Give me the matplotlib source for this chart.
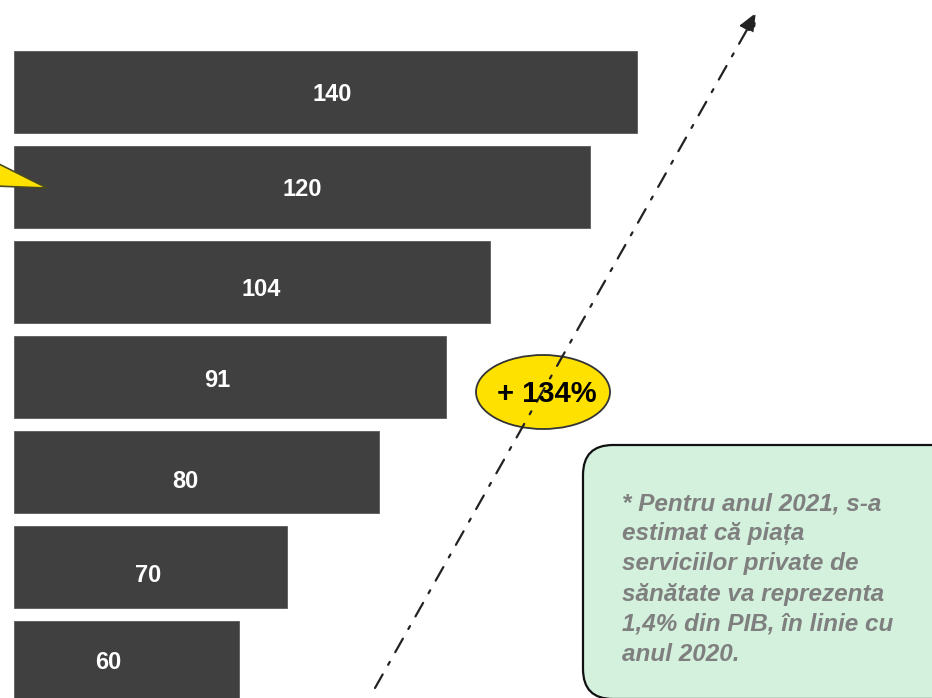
import matplotlib

matplotlib.use("Agg")
import matplotlib.pyplot as plt
from matplotlib.patches import Ellipse, FancyBboxPatch, Polygon

# values shown on the bars, bottom to top
values = [60, 70, 80, 91, 104, 120, 140]
# drawn bar lengths (read from the picture, not proportional to the labels)
bar_lengths = [50.6, 61.4, 82.0, 97.0, 107.0, 129.4, 140.0]
growth_label = "+ 134%"
note_lines = [
    "* Pentru anul 2021, s-a",
    "estimat că piața",
    "serviciilor private de",
    "sănătate va reprezenta",
    "1,4% din PIB, în linie cu",
    "anul 2020.",
]

# label placement inside each bar: fraction of bar length, vertical nudge
label_frac = [0.42, 0.49, 0.47, 0.47, 0.52, 0.50, 0.51]
label_dy = [-0.01, -0.09, -0.10, -0.04, -0.08, -0.03, -0.03]

BAR_COLOR = "#404040"
YELLOW = "#FFE100"
NOTE_FILL = "#D3F1DC"
NOTE_TEXT = "#7F7F7F"

plt.rcParams["font.family"] = ["Liberation Sans", "DejaVu Sans"]

W, H = 932, 698
fig = plt.figure(figsize=(W / 100, H / 100), dpi=100)

# bar axes: left edge of bars at x=14 px
ax = fig.add_axes([14 / W, 0, 1 - 14 / W, 1])
ax.set_xlim(0, (W - 14) / (623 / 140))
ax.set_ylim(-0.38, 6.97)
ax.axis("off")

ypos = list(range(len(values)))
ax.barh(ypos, bar_lengths, height=0.86, color=BAR_COLOR, edgecolor="#5a5a5a",
        linewidth=0.6, zorder=2)
for y, length, v, f, dy in zip(ypos, bar_lengths, values, label_frac, label_dy):
    ax.text(length * f, y + dy, str(v), ha="center", va="center",
            color="white", fontsize=17, fontweight="bold", zorder=3)

# overlay axes in pixel-like coordinates (origin top-left)
ov = fig.add_axes([0, 0, 1, 1])
ov.set_xlim(0, W)
ov.set_ylim(H, 0)
ov.axis("off")
ov.patch.set_alpha(0)

# yellow callout wedge at the left
ov.add_patch(Polygon([(-5, 162), (47, 188), (-5, 186)], closed=True,
                     facecolor=YELLOW, edgecolor="#4a4a20", linewidth=1.2, zorder=4))

# dash-dot growth arrow
ov.annotate("", xy=(757, 12), xytext=(375, 688),
            arrowprops=dict(arrowstyle="-|>,head_length=1.2,head_width=0.5",
                            linestyle=(0, (7, 5, 1.5, 5)), color="#222222",
                            linewidth=1.6, shrinkA=0, shrinkB=0),
            zorder=5)

# yellow ellipse with the growth figure
ov.add_patch(Ellipse((543, 392), 134, 74, facecolor=YELLOW, edgecolor="#333333",
                     linewidth=1.3, zorder=4))
ov.text(547, 394, growth_label, ha="center", va="center", fontsize=21,
        fontweight="bold", color="black", zorder=6)

# green note box
box = FancyBboxPatch((600, 462), 350, 220,
                     boxstyle="round,pad=17,rounding_size=30",
                     facecolor=NOTE_FILL, edgecolor="#111111", linewidth=1.6,
                     zorder=4)
ov.add_patch(box)
ov.text(622, 492, "\n".join(note_lines), ha="left", va="top", fontsize=17.5,
        fontweight="bold", fontstyle="italic", color=NOTE_TEXT,
        linespacing=1.4, zorder=6)

fig.savefig("out.png", dpi=100)
